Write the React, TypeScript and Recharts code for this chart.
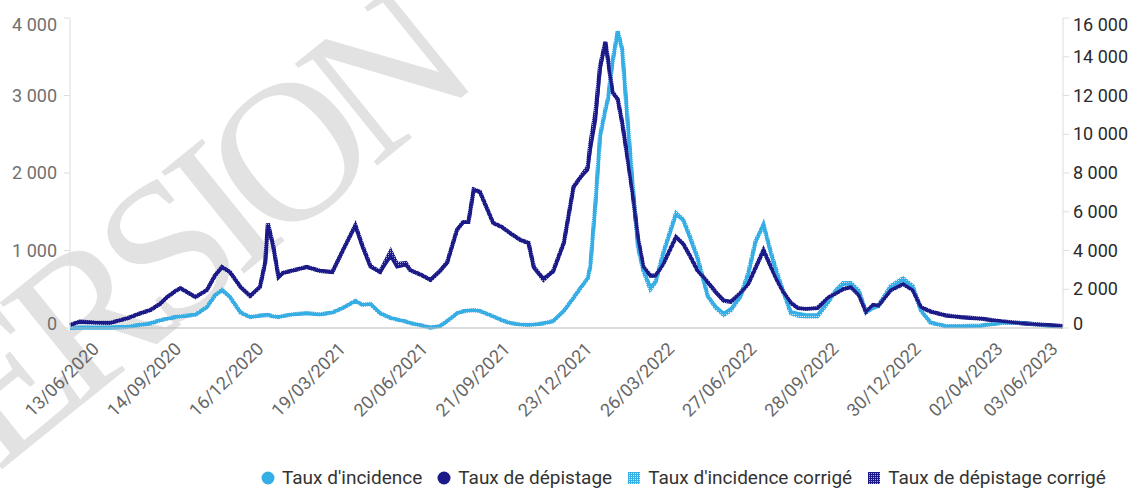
import { LineChart, Line, XAxis, YAxis } from "recharts";

// sample dates
const dates = [
  "2020-05-12", "2020-05-23", "2020-06-09", "2020-06-26", "2020-07-16", "2020-07-30", "2020-08-11", "2020-08-22", "2020-08-30", "2020-09-08",
  "2020-09-14", "2020-10-01", "2020-10-14", "2020-10-23", "2020-10-31", "2020-11-09", "2020-11-21", "2020-12-02", "2020-12-13", "2020-12-19",
  "2020-12-22", "2020-12-28", "2021-01-03", "2021-01-08", "2021-01-22", "2021-02-04", "2021-02-19", "2021-03-05", "2021-03-17", "2021-03-31",
  "2021-04-08", "2021-04-17", "2021-04-28", "2021-05-10", "2021-05-17", "2021-05-27", "2021-06-01", "2021-06-13", "2021-06-24", "2021-07-05",
  "2021-07-13", "2021-07-24", "2021-07-31", "2021-08-06", "2021-08-12", "2021-08-19", "2021-09-03", "2021-09-13", "2021-09-22", "2021-10-04",
  "2021-10-13", "2021-10-19", "2021-10-30", "2021-11-10", "2021-11-22", "2021-12-03", "2021-12-11", "2021-12-19", "2021-12-22", "2021-12-28",
  "2022-01-02", "2022-01-08", "2022-01-11", "2022-01-16", "2022-01-22", "2022-01-27", "2022-02-02", "2022-02-08", "2022-02-14", "2022-02-20",
  "2022-02-28", "2022-03-06", "2022-03-15", "2022-03-29", "2022-04-06", "2022-04-14", "2022-04-22", "2022-05-04", "2022-05-13", "2022-05-22",
  "2022-05-30", "2022-06-10", "2022-06-19", "2022-06-27", "2022-07-06", "2022-07-14", "2022-07-21", "2022-07-29", "2022-08-06", "2022-08-14",
  "2022-08-23", "2022-09-05", "2022-09-17", "2022-09-26", "2022-10-04", "2022-10-13", "2022-10-22", "2022-10-30", "2022-11-07", "2022-11-13",
  "2022-11-27", "2022-12-11", "2022-12-22", "2022-12-31", "2023-01-11", "2023-01-28", "2023-02-14", "2023-03-09", "2023-04-01", "2023-04-23",
  "2023-05-16", "2023-06-10",
];

// Taux d'incidence (left axis)
const incidence = [
  0, 5, 5, 5, 15, 40, 60, 100, 120, 140,
  150, 170, 270, 420, 490, 400, 200, 140, 160, 165,
  170, 150, 140, 155, 180, 190, 175, 200, 260, 350,
  300, 310, 190, 130, 110, 85, 65, 35, 5, 25,
  90, 190, 215, 225, 230, 220, 150, 100, 65, 45,
  40, 45, 60, 90, 220, 390, 520, 640, 790, 1610,
  2460, 2800, 2950, 3420, 3820, 3590, 2680, 1820, 1040, 750,
  530, 600, 970, 1460, 1390, 1150, 900, 400, 280, 190,
  250, 400, 700, 1100, 1350, 970, 700, 450, 210, 190,
  170, 170, 340, 480, 560, 570, 470, 210, 250, 280,
  520, 620, 530, 230, 70, 25, 25, 30, 65, 65,
  40, 15,
];

// Taux de dépistage (right axis)
const depistage = [
  150, 330, 280, 260, 500, 750, 930, 1250, 1600, 1900,
  2060, 1600, 1960, 2700, 3150, 2890, 2120, 1650, 2120, 3350,
  5300, 4180, 2630, 2840, 3000, 3150, 2950, 2890, 4020, 5260,
  4180, 3150, 2890, 3700, 3150, 3250, 2990, 2750, 2480, 2950,
  3350, 5060, 5470, 5470, 7120, 7020, 5420, 5210, 4900, 4540,
  4390, 3100, 2580, 2890, 4390, 7280, 7790, 8150, 9180, 10730,
  13310, 14760, 13830, 12180, 11800, 10600, 8800, 6900, 4600, 3150,
  2700, 2700, 3350, 4700, 4350, 3700, 2990, 2350, 1850, 1450,
  1350, 1810, 2300, 3100, 4020, 3150, 2500, 1810, 1290, 1030,
  980, 1030, 1550, 1800, 2000, 2120, 1700, 830, 1190, 1140,
  1960, 2270, 1960, 1080, 850, 650, 560, 480, 350, 250,
  170, 100,
];

// Taux d'incidence corrigé (left axis)
const incidenceCorr = [
  0, 5, 5, 5, 15, 40, 60, 100, 120, 140,
  150, 170, 270, 420, 490, 400, 200, 140, 160, 165,
  170, 150, 140, 155, 180, 190, 175, 200, 260, 350,
  300, 310, 190, 130, 110, 85, 65, 35, 5, 25,
  90, 190, 215, 225, 230, 220, 150, 100, 65, 45,
  40, 45, 60, 90, 220, 390, 520, 640, 800, 1650,
  2480, 2820, 2960, 3430, 3830, 3600, 2700, 1830, 1040, 740,
  500, 600, 990, 1480, 1400, 1170, 920, 410, 260, 170,
  230, 410, 720, 1120, 1330, 990, 720, 450, 190, 160,
  150, 150, 330, 490, 580, 580, 480, 200, 260, 290,
  540, 640, 540, 230, 70, 25, 25, 30, 65, 65,
  40, 15,
];

// Taux de dépistage corrigé (right axis)
const depistageCorr = [
  150, 330, 280, 260, 500, 750, 930, 1250, 1600, 1900,
  2060, 1600, 1960, 2700, 3150, 2890, 2120, 1650, 2120, 3400,
  5400, 4250, 2630, 2840, 3000, 3150, 2950, 2890, 4020, 5300,
  4250, 3200, 2890, 3950, 3300, 3350, 2990, 2750, 2480, 2950,
  3400, 5060, 5470, 5470, 7150, 7020, 5420, 5210, 4900, 4540,
  4390, 3150, 2500, 2950, 4400, 7280, 7790, 8300, 9500, 11200,
  13500, 14760, 13830, 12180, 11800, 10600, 8800, 6900, 4600, 3150,
  2700, 2700, 3350, 4700, 4350, 3700, 2990, 2350, 1850, 1400,
  1350, 1810, 2300, 3100, 4020, 3200, 2500, 1810, 1290, 1030,
  980, 1030, 1550, 1800, 2000, 2120, 1700, 830, 1190, 1140,
  1960, 2270, 1960, 1080, 850, 650, 560, 480, 350, 250,
  170, 100,
];

const tickLabels = [
  "13/06/2020", "14/09/2020", "16/12/2020", "19/03/2021", "20/06/2021", "21/09/2021", "23/12/2021",
  "26/03/2022", "27/06/2022", "28/09/2022", "30/12/2022", "02/04/2023", "03/06/2023",
];
const leftTicks = [0, 1000, 2000, 3000, 4000];
const rightTicks = [0, 2000, 4000, 6000, 8000, 10000, 12000, 14000, 16000];

const LIGHT = "#35aee6";
const NAVY = "#1b1a88";
const FONT = "Roboto, sans-serif";

const isoToTs = (s: string) => Date.parse(s + "T00:00:00Z");
const frToTs = (s: string) => {
  const [d, m, y] = s.split("/").map(Number);
  return Date.UTC(y, m - 1, d);
};
const fmtDate = (ts: number) => {
  const dt = new Date(ts);
  const dd = String(dt.getUTCDate()).padStart(2, "0");
  const mm = String(dt.getUTCMonth() + 1).padStart(2, "0");
  return `${dd}/${mm}/${dt.getUTCFullYear()}`;
};
const fmtNum = (v: number) => String(v).replace(/\B(?=(\d{3})+(?!\d))/g, " ");

const rows = dates.map((d, i) => ({
  t: isoToTs(d),
  inc: incidence[i],
  dep: depistage[i],
  incC: incidenceCorr[i],
  depC: depistageCorr[i],
}));
const xTicks = tickLabels.map(frToTs);
const xDomain = [isoToTs(dates[0]), isoToTs(dates[dates.length - 1])];

// keep the end labels inside the plot height, like the original
const clampY = (y: number) => Math.min(Math.max(y, 25), 324);

const XTick = ({ x, y, payload }: any) => (
  <text
    x={x + 2}
    y={y + 14}
    transform={`rotate(-45 ${x + 2} ${y + 14})`}
    textAnchor="end"
    fill="#666"
    fontSize={18}
    fontFamily={FONT}
  >
    {fmtDate(payload.value)}
  </text>
);

const LeftTick = ({ x, y, payload }: any) => (
  <text x={x - 5} y={clampY(y)} dy={6} textAnchor="end" fill="#707070" fontSize={18} fontFamily={FONT}>
    {fmtNum(payload.value)}
  </text>
);

const RightTick = ({ x, y, payload }: any) => (
  <text x={x + 2} y={clampY(y)} dy={6} textAnchor="start" fill="#2a2a2a" fontSize={18} fontFamily={FONT}>
    {fmtNum(payload.value)}
  </text>
);

const Patterns = ({ suffix }: { suffix: string }) => (
  <defs>
    <pattern id={`patInc${suffix}`} width="2" height="2" patternUnits="userSpaceOnUse">
      <rect width="2" height="2" fill={LIGHT} />
      <rect width="1" height="1" fill="#d6eefa" />
    </pattern>
    <pattern id={`patDep${suffix}`} width="2" height="2" patternUnits="userSpaceOnUse">
      <rect width="2" height="2" fill={NAVY} />
      <rect width="1" height="1" fill="#a9a9d8" />
    </pattern>
  </defs>
);

const Marker = ({ kind }: { kind: string }) => (
  <svg width="14" height="14" style={{ marginRight: 7, flex: "none" }}>
    {kind === "inc" && <circle cx="7" cy="7" r="6.5" fill={LIGHT} />}
    {kind === "dep" && <circle cx="7" cy="7" r="6.5" fill={NAVY} />}
    {kind === "incC" && <rect x="1" y="1" width="12" height="12" fill="url(#patIncL)" />}
    {kind === "depC" && <rect x="1" y="1" width="12" height="12" fill="url(#patDepL)" />}
  </svg>
);

const legendItems = [
  { kind: "inc", label: "Taux d'incidence" },
  { kind: "dep", label: "Taux de dépistage" },
  { kind: "incC", label: "Taux d'incidence corrigé" },
  { kind: "depC", label: "Taux de dépistage corrigé" },
];

export default function App() {
  return (
    <div style={{ position: "absolute", left: 0, top: 0, width: 1135, height: 488, background: "#fff", overflow: "hidden" }}>
      {/* watermark */}
      <svg width="1135" height="488" style={{ position: "absolute", left: 0, top: 0 }}>
        <text
          x={-100}
          y={552}
          transform="rotate(-39 -100 552)"
          fontFamily="'Liberation Serif', serif"
          fontSize={200}
          letterSpacing={-19}
          fill="#e2e2e2"
        >
          VERSION
        </text>
      </svg>
      <div style={{ position: "absolute", left: 0, top: 0 }}>
        <LineChart width={1135} height={488} data={rows} margin={{ top: 18, right: 0, bottom: 0, left: 0 }}>
          <Patterns suffix="" />
          <XAxis
            dataKey="t"
            type="number"
            domain={xDomain}
            ticks={xTicks}
            interval={0}
            tick={<XTick />}
            tickLine={false}
            axisLine={{ stroke: "#b8b8b8" }}
            height={160}
          />
          <YAxis
            yAxisId="l"
            orientation="left"
            width={70}
            domain={[0, 4000]}
            ticks={leftTicks}
            interval={0}
            tick={<LeftTick />}
            tickLine={{ stroke: "#dddddd" }}
            axisLine={{ stroke: "#dddddd" }}
          />
          <YAxis
            yAxisId="r"
            orientation="right"
            width={72}
            domain={[0, 16000]}
            ticks={rightTicks}
            interval={0}
            tick={<RightTick />}
            tickLine={{ stroke: "#dddddd" }}
            axisLine={{ stroke: "#dddddd" }}
          />
          <Line yAxisId="l" dataKey="incC" stroke="url(#patInc)" strokeWidth={4.2} dot={false} isAnimationActive={false} />
          <Line yAxisId="r" dataKey="depC" stroke="url(#patDep)" strokeWidth={4.2} dot={false} isAnimationActive={false} />
          <Line yAxisId="l" dataKey="inc" stroke={LIGHT} strokeWidth={3} dot={false} isAnimationActive={false} />
          <Line yAxisId="r" dataKey="dep" stroke={NAVY} strokeWidth={3} dot={false} isAnimationActive={false} />
        </LineChart>
      </div>
      {/* legend */}
      <div
        style={{
          position: "absolute",
          left: 261,
          top: 466,
          display: "flex",
          alignItems: "center",
          fontFamily: FONT,
          fontSize: 19,
          color: "#333",
          whiteSpace: "nowrap",
        }}
      >
        <svg width="0" height="0" style={{ position: "absolute" }}>
          <Patterns suffix="L" />
        </svg>
        {legendItems.map((it) => (
          <div key={it.kind} style={{ display: "flex", alignItems: "center", marginRight: 15 }}>
            <Marker kind={it.kind} />
            <span>{it.label}</span>
          </div>
        ))}
      </div>
    </div>
  );
}
